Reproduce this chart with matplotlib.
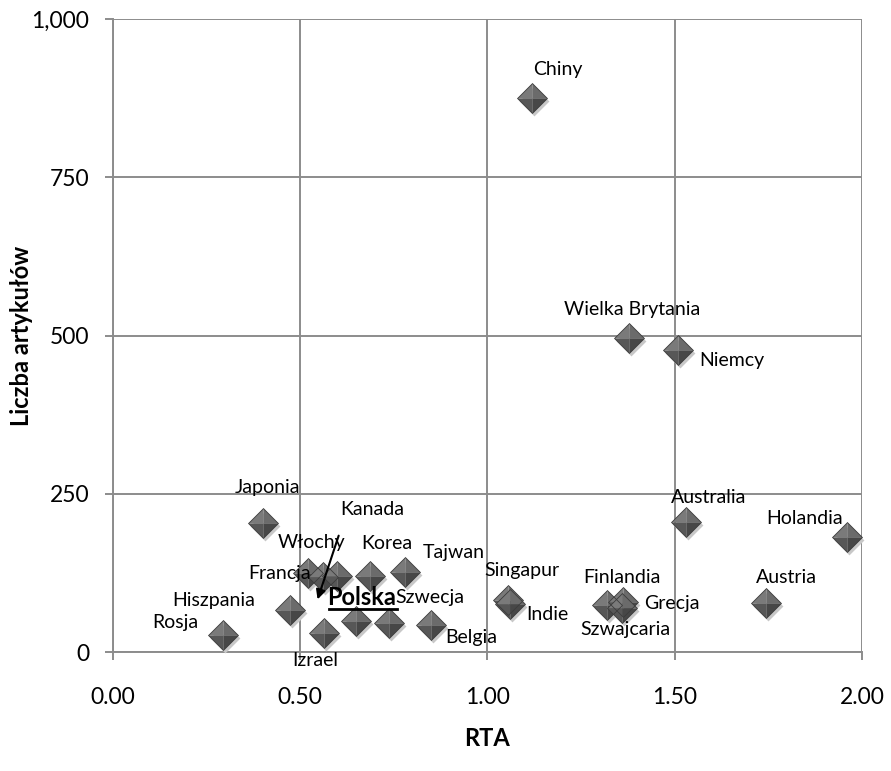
import matplotlib
matplotlib.use("Agg")
import matplotlib.pyplot as plt
from matplotlib.path import Path
from matplotlib.ticker import FuncFormatter, MultipleLocator
import matplotlib.transforms as mtransforms

plt.rcParams['font.family'] = ['Lato', 'DejaVu Sans']

countries = ["Chiny", "Wielka Brytania", "Niemcy", "Australia", "Holandia", "Austria",
             "Singapur", "Indie", "Finlandia", "Grecja", "Szwajcaria", "Japonia",
             "Francja", "Włochy", "Kanada", "Korea", "Tajwan", "Hiszpania", "Rosja",
             "Izrael", "Polska", "Szwecja", "Belgia"]
rta = [1.12, 1.379, 1.509, 1.531, 1.96, 1.744,
       1.056, 1.061, 1.32, 1.363, 1.36, 0.40,
       0.52, 0.56, 0.597, 0.685, 0.779, 0.472, 0.293,
       0.563, 0.648, 0.736, 0.848]
articles = [875, 496, 477, 205, 182, 77,
            82, 76, 74, 79, 70, 204,
            125, 118, 120, 120, 126, 66, 27,
            30, 49, 46, 43]

# label offsets (pixels) from each marker centre
label_offsets = {
    "Chiny": (25, 29), "Wielka Brytania": (3, 29), "Niemcy": (54, -10),
    "Australia": (22, 25), "Holandia": (-42, 18), "Austria": (20, 26),
    "Singapur": (13, 30), "Indie": (37, -11), "Finlandia": (15, 28),
    "Grecja": (48, -1), "Szwajcaria": (3, -22), "Japonia": (5, 35),
    "Francja": (-28, -1), "Włochy": (-11, 35), "Kanada": (36, 67),
    "Korea": (17, 33), "Tajwan": (49, 20), "Hiszpania": (-76, 10),
    "Rosja": (-47, 12), "Izrael": (-9, -27), "Polska": (6, 24),
    "Szwecja": (41, 25), "Belgia": (41, -13),
}

fig = plt.figure(figsize=(8.91, 7.71), dpi=100)
ax = fig.add_axes([0.1268, 0.1543, 0.8406, 0.8211])

ax.set_xlim(0, 2.0)
ax.set_ylim(0, 1000)
ax.xaxis.set_major_locator(MultipleLocator(0.5))
ax.yaxis.set_major_locator(MultipleLocator(250))
ax.xaxis.set_major_formatter(FuncFormatter(lambda v, p: f"{v:.2f}"))
ax.yaxis.set_major_formatter(FuncFormatter(lambda v, p: f"{v:,.0f}"))

grid_c = "#8c8c8c"
ax.grid(True, color=grid_c, linewidth=1.4, zorder=0)
ax.set_axisbelow(True)
for side in ("top", "right"):
    ax.spines[side].set_visible(False)
for side in ("left", "bottom"):
    ax.spines[side].set_color(grid_c)
    ax.spines[side].set_linewidth(1.4)
ax.tick_params(axis="both", colors=grid_c, length=6, width=1.4, labelcolor="black",
               labelsize=16.5)
ax.tick_params(axis="x", pad=19)
ax.tick_params(axis="y", pad=11)

fig.text(487 / 891, 1 - 738 / 771, "RTA", fontsize=17, fontweight="bold",
         ha="center", va="center")
fig.text(22 / 891, 1 - 336 / 771, "Liczba artykułów", fontsize=17, fontweight="bold",
         ha="center", va="center", rotation=90)

# pyramid-shaded diamond markers built from four triangular faces
faces = [
    ([(-1, 0), (0, 1), (0, 0), (-1, 0)], "#7a7a7a"),
    ([(0, 1), (1, 0), (0, 0), (0, 1)], "#6b6b6b"),
    ([(-1, 0), (0, 0), (0, -1), (-1, 0)], "#575757"),
    ([(0, 0), (1, 0), (0, -1), (0, 0)], "#474747"),
]
ms = 21.5
shadow_tr = ax.transData + mtransforms.ScaledTranslation(2 / 100, -3 / 100, fig.dpi_scale_trans)
diamond = Path([(-1, 0), (0, 1), (1, 0), (0, -1), (-1, 0)])
for x, y in zip(rta, articles):
    ax.plot([x], [y], marker=diamond, markersize=ms, color="#c8c8c8", linestyle="none",
            markeredgewidth=0, transform=shadow_tr, zorder=3, clip_on=False)
    for verts, col in faces:
        ax.plot([x], [y], marker=Path(verts), markersize=ms, color=col, linestyle="none",
                markeredgewidth=0, zorder=4, clip_on=False)
    ax.plot([x], [y], marker=diamond, markersize=ms, markerfacecolor="none",
            markeredgecolor="#3c3c3c", markeredgewidth=0.6, linestyle="none",
            zorder=5, clip_on=False)

for name, x, y in zip(countries, rta, articles):
    dx, dy = label_offsets[name]
    bold = name == "Polska"
    ax.annotate(name, (x, y), xytext=(dx, dy), textcoords="offset pixels",
                ha="center", va="center", fontsize=17 if bold else 14,
                fontweight="bold" if bold else "normal", zorder=6)

# pointer arrow and underline for Polska
ax.annotate("", xy=(0.544, 79), xytext=(0.605, 188),
            arrowprops=dict(arrowstyle="-|>", color="black", lw=1.5,
                            mutation_scale=14), zorder=7)
pi = countries.index("Polska")
u0 = ax.transData.transform((rta[pi], articles[pi]))
inv = ax.transData.inverted()
p1 = inv.transform((u0[0] - 27, u0[1] + 12))
p2 = inv.transform((u0[0] + 41, u0[1] + 12))
ax.plot([p1[0], p2[0]], [p1[1], p2[1]], color="black", lw=2, zorder=7, clip_on=False)

fig.savefig("out.png", dpi=100)
